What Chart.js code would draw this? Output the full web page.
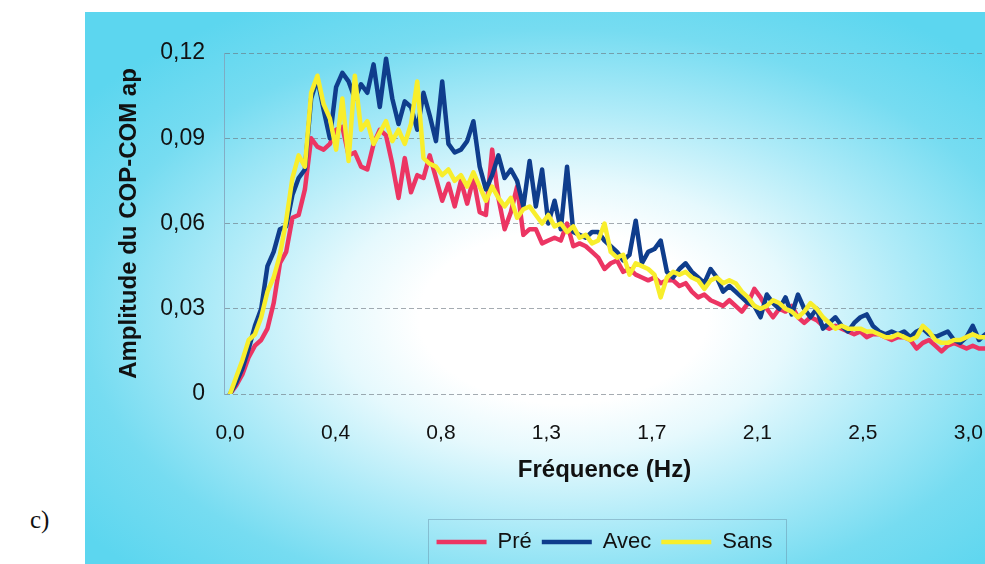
<!DOCTYPE html>
<html>
<head>
<meta charset="utf-8">
<script src="https://cdn.jsdelivr.net/npm/chart.js@4/dist/chart.umd.min.js"></script>
<style>
  html, body { margin:0; padding:0; background:#fff; width:985px; height:564px; overflow:hidden; }
  #panel { position:absolute; left:85px; top:12px; width:900px; height:552px;
    background: radial-gradient(ellipse 600px 360px at 478px 305px, #ffffff 0%, #ffffff 24%, #e6f9fd 38%, #afebf8 58%, #76dcf1 80%, #5cd6ef 100%); }
  #wrap { position:absolute; left:0; top:0; width:900px; height:552px; }
  #lab { position:absolute; left:30px; top:506px; font-family:'Liberation Serif','DejaVu Serif',serif; font-size:25px; color:#111; }
</style>
</head>
<body>
<div id="lab">c)</div>
<div id="panel"><div id="wrap"><canvas id="c"></canvas></div></div>
<script>
// Frequency bins (Hz)
const freqs = [0,0.025,0.05,0.075,0.1,0.125,0.15,0.175,0.2,0.225,0.25,0.275,0.3,0.325,0.35,0.375,0.4,0.425,0.45,0.475,0.5,0.525,0.55,0.575,0.6,0.625,0.65,0.675,0.7,0.725,0.75,0.775,0.8,0.825,0.85,0.875,0.9,0.925,0.95,0.975,1,1.025,1.05,1.075,1.1,1.125,1.15,1.175,1.2,1.225,1.25,1.275,1.3,1.325,1.35,1.375,1.4,1.425,1.45,1.475,1.5,1.525,1.55,1.575,1.6,1.625,1.65,1.675,1.7,1.725,1.75,1.775,1.8,1.825,1.85,1.875,1.9,1.925,1.95,1.975,2,2.025,2.05,2.075,2.1,2.125,2.15,2.175,2.2,2.225,2.25,2.275,2.3,2.325,2.35,2.375,2.4,2.425,2.45,2.475,2.5,2.525,2.55,2.575,2.6,2.625,2.65,2.675,2.7,2.725,2.75,2.775,2.8,2.825,2.85,2.875,2.9,2.925,2.95,2.975,3,3.025,3.05];

const pre = [0,.003,.007,.013,.017,.019,.023,.032,.046,.050,
 .062,.063,.072,.090,.087,.086,.088,.093,.094,.084,
 .085,.080,.079,.088,.093,.091,.081,.069,.083,.071,
 .077,.076,.084,.076,.068,.074,.066,.075,.067,.076,
 .064,.063,.086,.069,.058,.064,.073,.056,.058,.058,
 .053,.054,.055,.054,.060,.052,.053,.052,.050,.048,
 .044,.046,.047,.043,.044,.042,.041,.040,.041,.039,
 .040,.040,.038,.039,.036,.034,.035,.033,.032,.031,
 .033,.031,.029,.032,.037,.034,.030,.027,.030,.029,
 .031,.027,.025,.027,.026,.024,.023,.024,.023,.022,
 .021,.022,.020,.021,.021,.020,.019,.020,.020,.019,
 .016,.018,.019,.017,.015,.017,.018,.017,.016,.017,
 .016,.016,.017];

const avec = [0,.004,.009,.016,.024,.030,.045,.050,.058,.059,
 .070,.076,.079,.104,.111,.100,.090,.108,.113,.110,
 .104,.109,.106,.116,.101,.118,.104,.095,.103,.101,
 .093,.106,.098,.089,.110,.088,.085,.086,.089,.096,
 .080,.072,.077,.084,.076,.079,.075,.066,.082,.066,
 .079,.060,.068,.058,.080,.057,.056,.055,.057,.057,
 .054,.052,.050,.047,.049,.061,.046,.050,.051,.054,
 .043,.041,.044,.046,.043,.041,.039,.044,.041,.036,
 .038,.036,.034,.032,.031,.027,.035,.032,.030,.034,
 .028,.035,.030,.027,.030,.023,.025,.027,.024,.022,
 .025,.027,.028,.024,.022,.021,.022,.021,.022,.020,
 .022,.023,.021,.020,.021,.022,.019,.018,.020,.024,
 .019,.021,.020];

const sans = [0,.006,.012,.019,.021,.027,.036,.041,.049,.061,
 .076,.084,.080,.106,.112,.102,.097,.086,.104,.082,
 .112,.093,.096,.088,.092,.096,.089,.093,.088,.095,
 .110,.083,.081,.080,.077,.079,.075,.077,.073,.078,
 .073,.068,.073,.069,.066,.069,.062,.065,.066,.063,
 .060,.063,.059,.060,.057,.059,.055,.056,.053,.054,
 .060,.050,.048,.049,.042,.046,.045,.044,.042,.034,
 .041,.043,.042,.043,.041,.040,.037,.040,.041,.039,
 .040,.039,.036,.034,.031,.030,.031,.033,.032,.030,
 .029,.027,.029,.032,.030,.027,.025,.023,.024,.023,
 .023,.023,.022,.022,.021,.020,.020,.021,.020,.019,
 .020,.024,.022,.019,.018,.018,.019,.019,.020,.021,
 .020,.020,.019];

const seriesNames = ['Pré','Avec','Sans'];
const xTickValues = [0,0.4225,0.845,1.2675,1.69,2.1125,2.535,2.9575];
const xTickLabels = ['0,0','0,4','0,8','1,3','1,7','2,1','2,5','3,0'];
const yTickValues = [0,0.03,0.06,0.09,0.12];
const yTickLabels = ['0','0,03','0,06','0,09','0,12'];

const toXY = arr => arr.map((v,i)=>({x:freqs[i], y:v}));
const FONT = "'Liberation Sans', Arial, sans-serif";

const legendFrame = {
  id:'legendFrame',
  afterDraw(chart){
    const lg = chart.legend; if(!lg || !lg.legendHitBoxes || !lg.legendHitBoxes.length) return;
    const hb = lg.legendHitBoxes;
    let l = Math.min(...hb.map(b=>b.left)), r = Math.max(...hb.map(b=>b.left+b.width));
    const cy = hb[0].top + hb[0].height/2;
    const ctx = chart.ctx; ctx.save();
    ctx.strokeStyle='rgba(100,140,165,0.45)'; ctx.lineWidth=1;
    ctx.strokeRect(Math.round(l-9)+0.5, Math.round(cy-23)+0.5, Math.round(r-l+22), 60);
    ctx.restore();
  }
};

new Chart(document.getElementById('c'), {
  type:'line',
  data:{ datasets:[
    {label:seriesNames[0], data:toXY(pre), borderColor:'#ec3563', backgroundColor:'#ec3563', borderWidth:4.5, order:3},
    {label:seriesNames[1], data:toXY(avec), borderColor:'#0f3d8c', backgroundColor:'#0f3d8c', borderWidth:4.5, order:2},
    {label:seriesNames[2], data:toXY(sans), borderColor:'#f8ee2c', backgroundColor:'#f8ee2c', borderWidth:4.5, order:1}
  ]},
  options:{
    responsive:true, maintainAspectRatio:false, animation:false,
    layout:{padding:{top:41,left:0,right:0,bottom:1}},
    elements:{ line:{tension:0, borderJoinStyle:'round', borderCapStyle:'round'}, point:{radius:0} },
    plugins:{
      legend:{ position:'bottom', fullSize:false,
        labels:{ usePointStyle:true, pointStyle:'line', pointStyleWidth:50, padding:10,
          sort:(a,b)=>a.datasetIndex-b.datasetIndex,
          color:'#111', font:{family:FONT, size:22} } },
      tooltip:{enabled:false}
    },
    scales:{
      x:{ type:'linear', min:-0.024, max:3.024,
        afterBuildTicks: s => { s.ticks = xTickValues.map(v=>({value:v})); },
        afterFit: s => { s.height = 127; },
        ticks:{ autoSkip:false, maxRotation:0, padding:0, color:'#111',
          font:{family:FONT, size:21},
          callback:(v,i)=> xTickLabels[i] },
        grid:{display:true, drawOnChartArea:false, drawTicks:true, tickLength:27, tickColor:'rgba(0,0,0,0)', color:'rgba(0,0,0,0)'},
        border:{display:false},
        title:{display:true, text:'Fréquence (Hz)', color:'#111', padding:{top:0,bottom:36},
          font:{family:FONT, size:24, weight:'bold'}}
      },
      y:{ min:0, max:0.12,
        afterBuildTicks: s => { s.ticks = yTickValues.map(v=>({value:v})); },
        afterFit: s => { s.width = 139; },
        ticks:{ padding:19, color:'#111', font:{family:FONT, size:23},
          callback:(v,i)=> yTickLabels[i] },
        grid:{ color:'rgba(105,115,125,0.6)', lineWidth:1, drawTicks:false },
        border:{ display:true, color:'rgba(130,160,185,0.8)', width:1, dash:[5,3] },
        title:{display:true, text:'Amplitude du COP-COM ap', color:'#111', padding:{top:30,bottom:0},
          font:{family:FONT, size:24, weight:'bold'}}
      }
    }
  },
  plugins:[legendFrame]
});
</script>
</body>
</html>
